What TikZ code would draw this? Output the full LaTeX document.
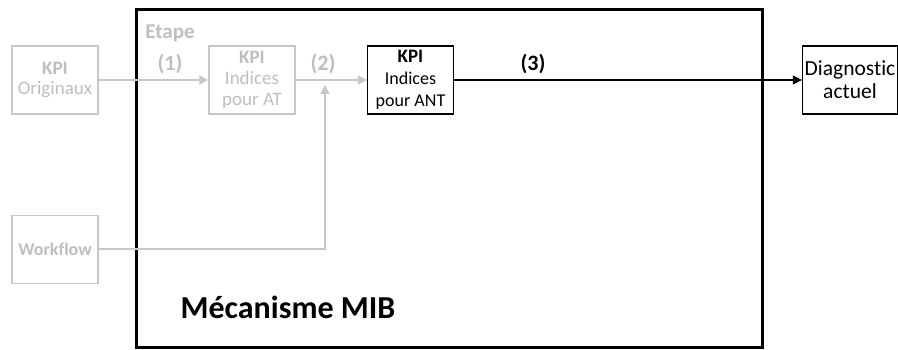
\documentclass[tikz,border=0pt]{standalone}
\usepackage{fontspec}
\setmainfont[Ligatures=NoCommon]{Carlito}
\usetikzlibrary{arrows.meta}
\definecolor{lg}{RGB}{200,200,200}
\definecolor{lgt}{RGB}{190,190,190}
\tikzset{
  gbox/.style={draw=lg, line width=1.5pt, minimum width=86pt, minimum height=68pt, align=center, text=lgt, inner sep=0pt, font=\fontsize{19}{21}\selectfont},
  kbox/.style={draw=black, line width=1.2pt, minimum width=86pt, minimum height=68pt, align=center, text=black, inner sep=0pt},
  garrow/.style={draw=lg, line width=1.5pt, -{Triangle[length=9pt,width=9pt]}},
  karrow/.style={draw=black, line width=1.2pt, -{Triangle[length=9pt,width=9pt]}},
  glabel/.style={text=lgt, font=\bfseries\fontsize{22}{24}\selectfont, inner sep=0pt},
}
\begin{document}
\begin{tikzpicture}[x=1pt,y=-1pt]
\useasboundingbox (0,0) rectangle (898,350);
\node[draw=black, line width=3pt, minimum width=626pt, minimum height=337pt, inner sep=0pt] (mib) at (449,178.5) {};
\node[font=\bfseries\fontsize{32}{36}\selectfont, inner sep=0pt] (mibl) at (288,307) {Mécanisme MIB};
\node[gbox, font=\fontsize{19}{20}\selectfont] (orig) at (55,80) {\textbf{KPI}\\Originaux};
\node[gbox] (at) at (252,80) {\textbf{KPI}\\Indices\\pour AT};
\node[kbox, font=\fontsize{18}{22}\selectfont] (ant) at (410.5,80) {{\fontsize{19}{21}\selectfont\textbf{KPI}}\\Indices\\pour ANT};
\node[kbox, minimum width=95pt, font=\fontsize{21.5}{23}\selectfont] (diag) at (850,80) {Diagnostic\\actuel};
\node[gbox, font=\bfseries\fontsize{18}{20}\selectfont] (wf) at (55,249.5) {Workflow};
\node[glabel, font=\bfseries\fontsize{21}{23}\selectfont] (etape) at (170,33) {Etape};
\node[glabel] (l1) at (170,64) {(1)};
\node[glabel] (l2) at (323,64) {(2)};
\node[glabel, text=black] (l3) at (533,64) {(3)};
\coordinate (wfc) at (325,249);
\coordinate (wfe) at (325,85);
\draw[garrow] (orig.east) -- (at.west);
\draw[garrow] (at.east) -- (ant.west);
\draw[garrow] (wf.east |- wfc) -- (wfc) -- (wfe);
\draw[karrow] (ant.east) -- (diag.west);
\end{tikzpicture}
\end{document}
